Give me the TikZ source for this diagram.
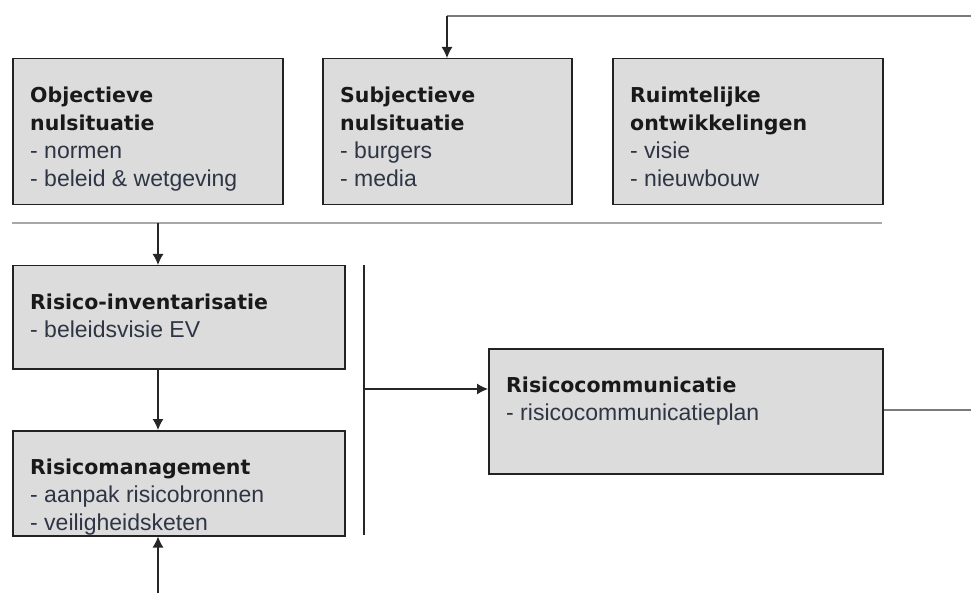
\documentclass[tikz,border=0pt]{standalone}
\usepackage{fontspec}
\usetikzlibrary{arrows.meta,calc}
\newfontfamily\ttlfam{DejaVu Sans}
\newfontfamily\bodyfam{Liberation Sans}
\newcommand\ttlf{\ttlfam\bfseries\fontsize{20.5}{28}\selectfont\color{black!90}}
\newcommand\bdyf{\bodyfam\mdseries\upshape\fontsize{23}{28}\selectfont\color{bodycol}}
\definecolor{boxfill}{HTML}{DCDCDC}
\definecolor{boxline}{HTML}{222222}
\definecolor{bodycol}{HTML}{2E3545}
\definecolor{sepcol}{HTML}{A8A8A8}
\definecolor{fbcol}{HTML}{7A7A7A}
\begin{document}
\begin{tikzpicture}[x=1pt,y=-1pt,
  box/.style={draw=boxline,line width=1.5pt,fill=boxfill,anchor=north west,inner sep=0pt},
  txt/.style={anchor=base west,inner sep=0pt,align=left},
  arr/.style={draw=black!85,line width=1.2pt,-{Latex[length=11pt,width=11pt]}},
  plain/.style={draw=black!85,line width=1.2pt},
  fb/.style={draw=fbcol,line width=1.3pt},
  sep/.style={draw=sepcol,line width=2.5pt}]
\useasboundingbox (0,0) rectangle (971,593);
% boxes
\node[box,minimum width=270pt,minimum height=146pt] (o) at (12,58) {};
\node[box,minimum width=249pt,minimum height=146pt] (s) at (322,58) {};
\node[box,minimum width=270pt,minimum height=146pt] (r) at (612,58) {};
\node[box,minimum width=332pt,minimum height=103pt] (ri) at (12,265) {};
\node[box,minimum width=332pt,minimum height=105pt] (rm) at (12,430) {};
\node[box,minimum width=394pt,minimum height=125pt] (rc) at (488,348) {};
% texts
\node[txt] (ot) at ($(o.north west)+(18,29)$) {\parbox[t]{250pt}{\ttlf Objectieve\\nulsituatie\\\bdyf - normen\\- beleid \& wetgeving}};
\node[txt] (st) at ($(s.north west)+(18,29)$) {\parbox[t]{230pt}{\ttlf Subjectieve\\nulsituatie\\\bdyf - burgers\\- media}};
\node[txt] (rt) at ($(r.north west)+(18,29)$) {\parbox[t]{250pt}{\ttlf Ruimtelijke\\ontwikkelingen\\\bdyf - visie\\- nieuwbouw}};
\node[txt] (rit) at ($(ri.north west)+(18,29)$) {\parbox[t]{310pt}{\ttlf Risico-inventarisatie\\\bdyf - beleidsvisie EV}};
\node[txt] (rmt) at ($(rm.north west)+(18,29)$) {\parbox[t]{310pt}{\ttlf Risicomanagement\\\bdyf - aanpak risicobronnen\\- veiligheidsketen}};
\node[txt] (rct) at ($(rc.north west)+(18,29)$) {\parbox[t]{370pt}{\ttlf Risicocommunicatie\\\bdyf - risicocommunicatieplan}};
% separator
\coordinate (sl) at (12,223);
\coordinate (sr) at (882,223);
\draw[sep] (sl) -- (sr);
% feedback line at top
\coordinate (tr) at (971,16);
\coordinate (tc) at (447,16);
\draw[fb] (tr) -- (tc);
\draw[arr] (tc) -- (tc |- s.north);
% arrows in lower part
\coordinate (sa) at (158,223);
\draw[arr] (sa) -- (sa |- ri.north);
\draw[arr] (ri.south -| sa) -- (sa |- rm.north);
\coordinate (bt) at (158,593);
\draw[arr] (bt) -- (bt |- rm.south);
% bracket line and arrow to communication
\coordinate (vt) at (364,265);
\coordinate (vb) at (364,535);
\coordinate (vm) at (364,389);
\draw[plain] (vt) -- (vb);
\draw[arr] (vm) -- (vm -| rc.west);
% line from communication to the right
\coordinate (cr) at (971,410);
\draw[fb] (rc.east |- cr) -- (cr);
\end{tikzpicture}
\end{document}
